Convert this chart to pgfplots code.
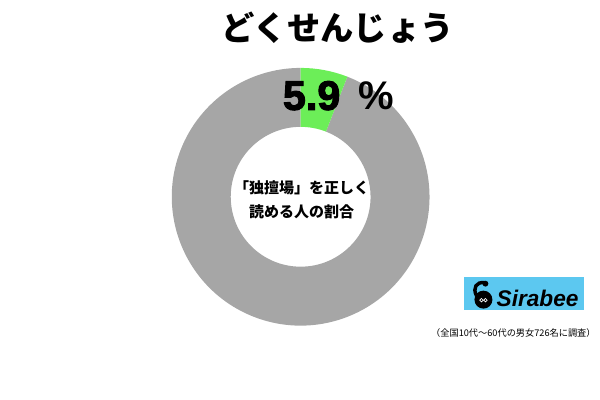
\documentclass[border=0pt]{standalone}
\usepackage{pgfplots}
\pgfplotsset{compat=1.18}
\usepackage{pgfplotstable}
\usepackage{fontspec}
\setmainfont{Liberation Sans}
\newfontfamily\cjk{Noto Sans CJK JP}
\newfontfamily\heavy{Liberation Sans Bold}[FakeBold=2.5]
\newfontfamily\boldsans{Liberation Sans Bold}
\definecolor{yesgreen}{RGB}{108,238,88}
\definecolor{nogray}{RGB}{166,166,166}
\definecolor{sirablue}{RGB}{92,200,240}

% share of respondents (percent)
\pgfplotstableread{
label value
yes 5.9
no 94.1
}\sharetable

\begin{document}
\begin{tikzpicture}
\pgfplotstablegetelem{0}{value}\of\sharetable
\let\valyes\pgfplotsretval
\pgfmathsetmacro\angyes{90-3.6*\valyes}
\def\Rout{96.75pt}
\def\Rin{52.5pt}
\begin{axis}[
    x=0.75pt, y=0.75pt,
    xmin=0, xmax=600,
    ymin=0, ymax=400,
    hide axis,
    clip=false,
]
\path (axis cs:0,0) rectangle (axis cs:600,400);

% donut
\fill[nogray, shift={(axis cs:301,203)}]
    (\angyes:\Rout) arc[start angle=\angyes, end angle=-270, radius=\Rout]
    -- (-270:\Rin) arc[start angle=-270, end angle=\angyes, radius=\Rin] -- cycle;
\fill[yesgreen, shift={(axis cs:301,203)}]
    (90:\Rout) arc[start angle=90, end angle=\angyes, radius=\Rout]
    -- (\angyes:\Rin) arc[start angle=\angyes, end angle=90, radius=\Rin] -- cycle;

% title and value
\node[font=\cjk\bfseries\fontsize{25}{30}\selectfont] at (axis cs:338,372) {どくせんじょう};
\node[anchor=base west, inner sep=0pt, font=\heavy\fontsize{31}{36}\selectfont]
    at (axis cs:283,290) {5.9};
\node[anchor=base west, inner sep=0pt, font=\boldsans\fontsize{30}{36}\selectfont]
    at (axis cs:359,290) {\%};

% centre label
\node[font=\cjk\bfseries\fontsize{11.25}{13}\selectfont] at (axis cs:302,212) {「独擅場」を正しく};
\node[font=\cjk\bfseries\fontsize{11.25}{13}\selectfont] at (axis cs:302,188) {読める人の割合};

% logo
\fill[sirablue] (axis cs:465,90) rectangle (axis cs:585,123);
\fill[black] (axis cs:484,100) circle[radius=6.75pt];
\draw[black, line width=2.6pt, line cap=round]
    (axis cs:477,104) .. controls (axis cs:473,112) and (axis cs:477,118) .. (axis cs:485,117);
\fill[black] (axis cs:486,116) circle[radius=2.2pt];
\draw[white, line width=0.5pt] (axis cs:482,99.5) circle[radius=1.3pt] (axis cs:486,99.5) circle[radius=1.3pt];
\node[anchor=base west, inner sep=0pt, font=\bfseries\itshape\fontsize{17}{20}\selectfont]
    at (axis cs:497,93) {Sirabee};

% note
\node[font=\cjk\fontsize{6.9}{8}\selectfont] at (axis cs:514,67) {（全国10代～60代の男女726名に調査）};
\end{axis}
\end{tikzpicture}
\end{document}
